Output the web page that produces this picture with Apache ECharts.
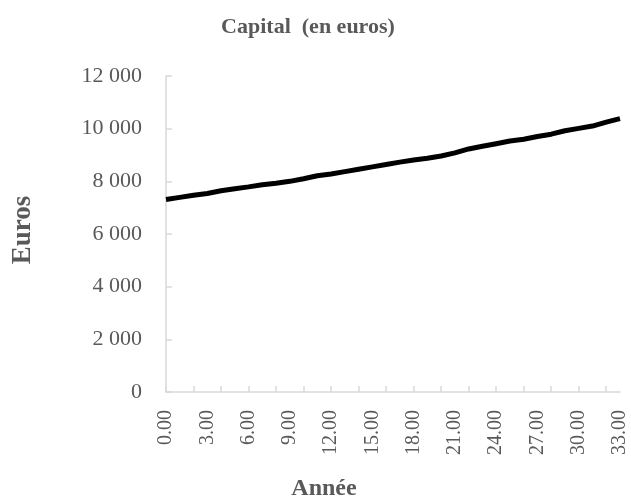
<!DOCTYPE html>
<html>
<head>
<meta charset="utf-8">
<script src="https://cdn.jsdelivr.net/npm/echarts@6/dist/echarts.min.js"></script>
<style>html,body{margin:0;padding:0;background:#fff}#c{width:631px;height:499px}</style>
</head>
<body>
<div id="c"></div>
<script>
var years = ['0.00','1.00','2.00','3.00','4.00','5.00','6.00','7.00','8.00','9.00','10.00','11.00','12.00','13.00','14.00','15.00','16.00','17.00','18.00','19.00','20.00','21.00','22.00','23.00','24.00','25.00','26.00','27.00','28.00','29.00','30.00','31.00','32.00','33.00'];
var capital = [7310,7390,7470,7540,7640,7720,7790,7870,7930,8000,8100,8210,8280,8370,8460,8550,8640,8730,8810,8880,8960,9080,9230,9330,9430,9530,9600,9700,9790,9920,10010,10100,10250,10380];
var yTicks = [0,2000,4000,6000,8000,10000,12000];

var FONT = '"Liberation Serif", "DejaVu Serif", serif';
var GRAY = '#595959';
var AX = '#d9d9d9';

var chart = echarts.init(document.getElementById('c'), null, {renderer:'canvas'});
chart.setOption({
  animation: false,
  grid: {left:166, right:11, top:76, bottom:107, containLabel:false},
  graphic: [
    {type:'text', style:{text:'Capital  (en euros)', font:'bold 22px '+FONT, fill:GRAY, textAlign:'center', textVerticalAlign:'middle'}, x:308, y:27},
    {type:'text', style:{text:'Euros', font:'bold 27px '+FONT, fill:GRAY, textAlign:'center', textVerticalAlign:'middle'}, x:23, y:230, rotation:Math.PI/2},
    {type:'text', style:{text:'Année', font:'bold 24px '+FONT, fill:GRAY, textAlign:'center', textVerticalAlign:'middle'}, x:324, y:489}
  ],
  xAxis: {
    type:'category', data: years, boundaryGap:false,
    axisLine:{lineStyle:{color:AX, width:1.5}},
    axisTick:{show:true, inside:true, length:6, interval:1, lineStyle:{color:AX, width:1.5}},
    axisLabel:{interval:2, rotate:90, margin:18, color:GRAY, fontFamily:FONT, fontSize:20},
    splitLine:{show:false}
  },
  yAxis: {
    type:'value', min:0, max:12000, interval:2000,
    axisLine:{show:true, lineStyle:{color:AX, width:1.5}},
    axisTick:{show:true, inside:true, length:6, lineStyle:{color:AX, width:1.5}},
    axisLabel:{margin:24, color:GRAY, fontFamily:FONT, fontSize:22,
      formatter:function(v){ return yTicks.indexOf(v)>=0 ? String(v).replace(/\B(?=(\d{3})+(?!\d))/g,' ') : ''; }},
    splitLine:{show:false}
  },
  series: [{
    type:'line', data: capital, showSymbol:false, symbol:'none',
    lineStyle:{color:'#000', width:5}
  }]
});
</script>
</body>
</html>
